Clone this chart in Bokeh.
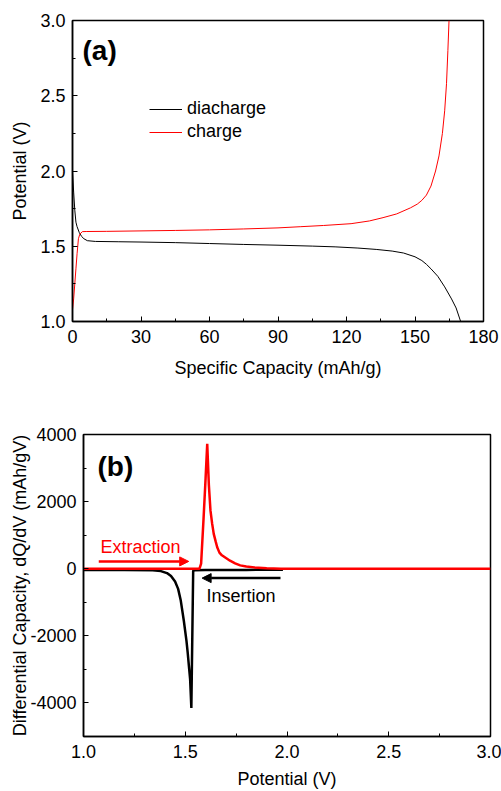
from bokeh.plotting import figure
from bokeh.models import (Range1d, SingleIntervalTicker, PrintfTickFormatter,
                          Legend, LegendItem, Label, Arrow, NormalHead)
from bokeh.embed import file_html
from bokeh.resources import INLINE

FONT = "Liberation Sans"

# ---- (a) galvanostatic discharge / charge profile ----
cap_discharge = [0, 0.5, 1, 1.5, 2, 3, 4, 5, 6.5, 10, 20, 30, 45, 60, 75, 90, 105,
                 115, 125, 133, 140, 145, 150, 153, 155, 157, 160, 163, 166, 168, 170]
v_discharge = [2.00, 1.86, 1.74, 1.66, 1.63, 1.59, 1.565, 1.55, 1.537, 1.532, 1.530,
               1.528, 1.524, 1.518, 1.512, 1.507, 1.501, 1.496, 1.488, 1.479, 1.468,
               1.455, 1.430, 1.405, 1.380, 1.350, 1.300, 1.230, 1.150, 1.090, 1.000]

cap_charge = [0, 0.5, 1, 1.5, 2, 2.6, 3.2, 4.3, 6, 15, 30, 45, 60, 75, 90, 100, 110,
              122, 130, 136, 142, 148, 151, 153, 155, 157, 159, 160.5, 162, 163,
              163.8, 164.4, 164.9]
v_charge = [1.08, 1.15, 1.25, 1.35, 1.45, 1.55, 1.58, 1.597, 1.598, 1.599, 1.602,
            1.605, 1.609, 1.615, 1.622, 1.630, 1.638, 1.650, 1.668, 1.690, 1.715,
            1.755, 1.780, 1.805, 1.840, 1.900, 2.000, 2.100, 2.250, 2.400, 2.580,
            2.800, 3.000]

# ---- (b) differential capacity ----
v_dqdv_charge = [1.00, 1.30, 1.50, 1.570, 1.578, 1.590, 1.600, 1.608, 1.616, 1.624,
                 1.632, 1.640, 1.650, 1.657, 1.668, 1.680, 1.700, 1.720, 1.745, 1.770,
                 1.800, 1.840, 1.900, 1.970, 2.200, 2.600, 3.000]
dqdv_charge = [0, 0, 0, 0, 150, 1500, 2700, 3720, 2500, 1730, 1350, 1040, 800, 640,
               480, 400, 320, 240, 160, 100, 65, 40, 15, 0, 0, 0, 0]

v_dqdv_discharge = [1.00, 1.20, 1.34, 1.38, 1.41, 1.43, 1.45, 1.465, 1.478, 1.493,
                    1.506, 1.512, 1.518, 1.524, 1.530, 1.539, 1.545, 1.60, 1.80, 1.98]
dqdv_discharge = [-40, -40, -45, -70, -130, -220, -380, -600, -950, -1550, -2150,
                  -2500, -2900, -3300, -4150, -60, -45, -40, -35, -30]

legend_labels = ["diacharge", "charge"]

# annotation anchors (data units)
panel_a_pos = (4.4, 2.80)
panel_b_pos = (1.069, 3050)
extraction_text_pos = (1.083, 660)
extraction_arrow = (1.075, 1.517, 218)
insertion_text_pos = (1.604, -820)
insertion_arrow = (1.968, 1.583, -280)

RED = "#ff0000"
TXT = "18px"


def style(p, xtick, xminor, ytick, yminor, xfmt, yfmt):
    p.outline_line_color = "black"
    p.outline_line_width = 1.5
    p.xgrid.visible = False
    p.ygrid.visible = False
    p.xaxis.ticker = SingleIntervalTicker(interval=xtick, num_minor_ticks=xminor)
    p.yaxis.ticker = SingleIntervalTicker(interval=ytick, num_minor_ticks=yminor)
    p.xaxis.formatter = PrintfTickFormatter(format=xfmt)
    p.yaxis.formatter = PrintfTickFormatter(format=yfmt)
    for ax in (p.xaxis, p.yaxis):
        ax.axis_line_color = "black"
        ax.axis_line_width = 1.5
        ax.major_tick_line_color = "black"
        ax.minor_tick_line_color = "black"
        ax.major_tick_in = 5
        ax.major_tick_out = 0
        ax.minor_tick_in = 3
        ax.minor_tick_out = 0
        ax.major_label_text_font = FONT
        ax.major_label_text_font_size = TXT
        ax.major_label_text_color = "black"
        ax.axis_label_text_font = FONT
        ax.axis_label_text_font_size = TXT
        ax.axis_label_text_font_style = "normal"
        ax.axis_label_text_color = "black"
    p.yaxis.major_label_standoff = 7


# ---------------- panel (a) ----------------
p1 = figure(width=501, height=400, output_backend="svg", toolbar_location=None,
            x_range=Range1d(0, 180), y_range=Range1d(1.0, 3.0),
            min_border_left=72, min_border_right=18, min_border_top=20,
            min_border_bottom=79, background_fill_color="white",
            border_fill_color="white")
style(p1, 30, 2, 0.5, 2, "%d", "%.1f")
p1.xaxis.axis_label = "Specific Capacity (mAh/g)"
p1.yaxis.axis_label = "Potential (V)"
p1.xaxis.major_label_standoff = 8
p1.xaxis.axis_label_standoff = 12
p1.yaxis.axis_label_standoff = 7

r_dis = p1.line(cap_discharge, v_discharge, line_color="black", line_width=1)
r_chg = p1.line(cap_charge, v_charge, line_color=RED, line_width=1)

legend = Legend(items=[LegendItem(label=legend_labels[0], renderers=[r_dis]),
                       LegendItem(label=legend_labels[1], renderers=[r_chg])],
                location=(77, 179), border_line_color=None,
                background_fill_alpha=0, padding=0, margin=0, spacing=2,
                glyph_width=33, glyph_height=20, label_standoff=5,
                label_text_font=FONT, label_text_font_size=TXT,
                label_text_color="black", label_height=20)
p1.add_layout(legend)

p1.add_layout(Label(x=panel_a_pos[0], y=panel_a_pos[1], text="(a)",
                    text_font=FONT, text_font_size="28px", text_font_style="bold",
                    text_baseline="middle", text_align="left", text_color="black"))

# ---------------- panel (b) ----------------
p2 = figure(width=501, height=391, output_backend="svg", toolbar_location=None,
            x_range=Range1d(1.0, 3.0), y_range=Range1d(-5000, 4000),
            min_border_left=83, min_border_right=11, min_border_top=34,
            min_border_bottom=55, background_fill_color="white",
            border_fill_color="white")
style(p2, 0.5, 2, 2000, 2, "%.1f", "%d")
p2.xaxis.axis_label = "Potential (V)"
p2.yaxis.axis_label = "Differential Capacity, dQ/dV (mAh/gV)"
p2.xaxis.major_label_standoff = 8
p2.xaxis.axis_label_standoff = 8
p2.yaxis.axis_label_standoff = -3

p2.line(v_dqdv_discharge, dqdv_discharge, line_color="black", line_width=2.5)
p2.line(v_dqdv_charge, dqdv_charge, line_color=RED, line_width=2.5)

p2.add_layout(Arrow(end=NormalHead(size=9, fill_color=RED, line_color=RED),
                    x_start=extraction_arrow[0], x_end=extraction_arrow[1],
                    y_start=extraction_arrow[2], y_end=extraction_arrow[2],
                    line_color=RED, line_width=2.5))
p2.add_layout(Arrow(end=NormalHead(size=9, fill_color="black", line_color="black"),
                    x_start=insertion_arrow[0], x_end=insertion_arrow[1],
                    y_start=insertion_arrow[2], y_end=insertion_arrow[2],
                    line_color="black", line_width=2.5))

p2.add_layout(Label(x=extraction_text_pos[0], y=extraction_text_pos[1],
                    text="Extraction", text_font=FONT, text_font_size=TXT,
                    text_baseline="middle", text_align="left", text_color=RED))
p2.add_layout(Label(x=insertion_text_pos[0], y=insertion_text_pos[1],
                    text="Insertion", text_font=FONT, text_font_size=TXT,
                    text_baseline="middle", text_align="left", text_color="black"))
p2.add_layout(Label(x=panel_b_pos[0], y=panel_b_pos[1], text="(b)",
                    text_font=FONT, text_font_size="28px", text_font_style="bold",
                    text_baseline="middle", text_align="left", text_color="black"))

# two independent roots, stacked on the page, each keeping its own frame
open("out.html", "w").write(file_html([p1, p2], INLINE))
